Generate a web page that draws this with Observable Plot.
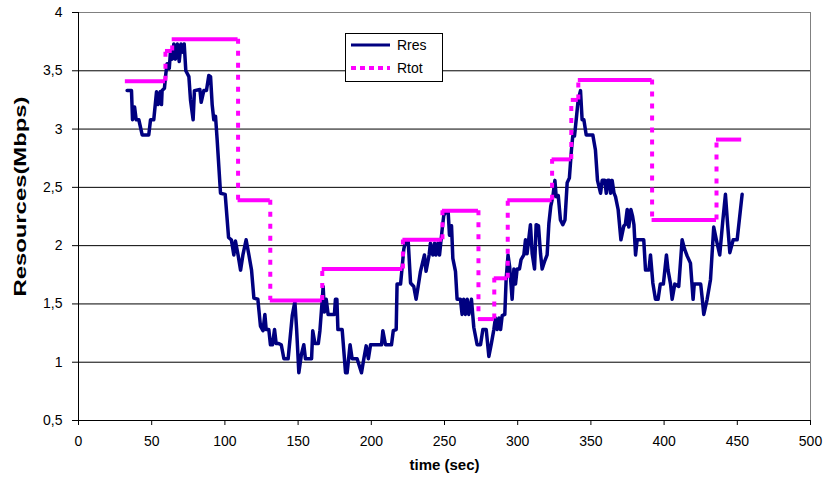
<!DOCTYPE html>
<html>
<head>
<meta charset="utf-8">
<script src="https://cdn.jsdelivr.net/npm/d3@7"></script>
<script src="https://cdn.jsdelivr.net/npm/@observablehq/plot@0.6"></script>
<style>
  body { margin: 0; background: white; }
  #wrap { position: relative; width: 830px; height: 488px; }
  #legend { position: absolute; left: 345px; top: 33px; }
</style>
</head>
<body>
<div id="wrap"></div>
<script>
// ---- data ----
const xTicks = [0, 50, 100, 150, 200, 250, 300, 350, 400, 450, 500];
const yTicks = [0.5, 1, 1.5, 2, 2.5, 3, 3.5, 4];
const seriesNames = ["Rres", "Rtot"];

const rresT = [33.2,36.2,36.9,38.3,39.4,41.2,43.5,48.0,49.2,51.4,53.3,54.4,55.8,56.7,57.1,58.7,59.7,60.5,62.0,62.8,64.0,65.1,66.2,67.5,68.8,70.0,71.2,72.2,73.3,75.4,76.5,78.3,79.2,82.9,83.8,85.6,87.4,89.0,90.2,91.3,92.4,93.6,94.7,97.0,100.2,102.5,104.4,106.1,107.2,109.0,110.7,112.3,114.5,116.4,118.2,119.8,122.5,124.3,126.0,127.3,128.2,130.0,131.1,132.5,133.9,135.0,136.8,138.5,140.3,143.2,146.0,147.8,149.0,150.5,152.3,153.9,155.0,159.2,160.0,161.5,163.8,164.9,166.4,167.1,168.0,169.2,170.5,172.1,174.8,175.5,176.5,177.2,180.1,182.4,183.5,185.5,186.9,190.3,193.3,194.9,196.5,198.0,199.5,207.0,207.9,209.7,213.8,215.0,217.0,217.6,220.0,222.2,223.4,225.2,226.8,229.0,230.6,232.0,233.6,236.3,237.4,239.5,240.4,242.0,243.2,244.2,245.5,246.6,248.4,249.5,251.1,252.5,253.4,254.8,255.7,257.5,258.6,260.9,262.0,263.1,264.3,265.5,266.6,268.4,270.0,272.3,274.6,276.2,278.5,280.3,282.0,283.7,284.8,286.0,287.2,288.3,289.4,291.2,292.1,293.4,294.5,296.2,297.4,298.5,299.6,301.2,302.3,304.2,305.3,306.4,307.5,308.7,309.9,311.5,312.6,314.2,315.6,316.7,318.5,320.1,321.3,322.6,324.0,325.4,326.3,327.7,329.2,330.8,332.3,333.8,335.3,336.7,337.6,338.8,340.2,341.3,342.9,344.0,345.2,346.8,348.6,351.3,353.1,354.5,356.6,357.7,359.5,360.5,361.5,362.5,363.4,364.5,365.8,366.8,368.6,370.5,372.5,373.5,374.8,375.9,377.3,378.5,379.4,380.5,381.6,386.1,387.3,389.6,390.7,392.3,394.1,395.9,397.4,399.5,401.6,402.7,404.4,405.5,407.3,410.0,412.3,414.0,415.8,418.0,419.8,420.6,425.0,426.1,427.1,429.4,431.7,433.9,435.7,438.0,440.0,441.9,443.4,444.9,447.2,449.9,453.3];
const rresV = [3.33,3.33,3.08,3.19,3.08,3.08,2.95,2.95,3.08,3.08,3.32,3.21,3.32,3.21,3.33,3.35,3.48,3.56,3.52,3.66,3.60,3.73,3.60,3.73,3.58,3.73,3.66,3.73,3.50,3.45,3.25,3.08,3.33,3.34,3.23,3.33,3.33,3.46,3.45,3.21,3.08,3.11,2.91,2.45,2.44,2.07,2.05,1.92,2.04,1.92,1.79,1.92,2.05,1.92,1.79,1.55,1.54,1.31,1.27,1.41,1.28,1.28,1.15,1.15,1.28,1.16,1.16,1.15,1.03,1.03,1.40,1.52,1.28,0.91,1.07,1.15,1.03,1.03,1.27,1.16,1.16,1.27,1.52,1.65,1.43,1.54,1.41,1.41,1.41,1.54,1.54,1.28,1.28,0.91,0.91,1.15,1.03,1.03,0.91,1.03,1.14,1.03,1.15,1.15,1.27,1.15,1.15,1.27,1.28,1.67,1.67,1.97,2.04,2.04,1.68,1.65,1.54,1.65,1.78,1.92,1.78,1.92,2.02,1.92,2.02,1.92,2.02,1.92,2.14,2.26,2.29,2.29,2.09,2.17,1.89,1.78,1.54,1.54,1.41,1.54,1.41,1.54,1.41,1.54,1.30,1.15,1.15,1.28,1.28,1.05,1.16,1.28,1.38,1.28,1.38,1.28,1.40,1.41,1.71,1.92,1.82,1.54,1.80,1.67,1.80,1.80,1.88,1.92,2.05,1.93,2.05,2.18,1.93,1.80,2.18,2.17,1.93,1.80,1.87,1.92,2.19,2.34,2.42,2.56,2.42,2.43,2.22,2.18,2.22,2.54,2.58,2.82,2.94,2.94,3.11,3.25,3.33,3.08,3.08,2.95,2.95,2.95,2.82,2.56,2.45,2.56,2.56,2.45,2.56,2.56,2.45,2.56,2.45,2.42,2.31,2.05,2.17,2.18,2.31,2.16,2.31,2.25,2.18,1.92,2.05,2.05,1.79,1.79,1.92,1.68,1.54,1.54,1.67,1.67,1.92,1.79,1.67,1.54,1.67,1.65,2.05,1.97,1.91,1.85,1.54,1.67,1.67,1.54,1.41,1.54,1.71,2.16,2.05,1.92,2.20,2.44,2.18,1.94,2.05,2.05,2.44];

const rtotStart = [32, 59.4, 64, 109, 131, 166.5, 221.6, 248.6, 273.2, 284, 293.2, 323.5, 336.6, 341.4, 391.8, 435.8];
const rtotEnd   = [59.4, 64, 109, 131, 166.5, 221.6, 248.6, 273.2, 284, 293.2, 323.5, 336.6, 341.4, 391.8, 435.8, 453];
const rtotLevel = [3.41, 3.67, 3.77, 2.39, 1.53, 1.80, 2.05, 2.30, 1.37, 1.72, 2.39, 2.74, 3.25, 3.42, 2.22, 2.91];

// ---- derived tables ----
const rres = rresT.map((t, i) => ({t, v: rresV[i]}));
const horiz = rtotLevel.map((v, i) => ({x1: rtotStart[i], x2: rtotEnd[i], y: v}));
const vert = rtotLevel.slice(1).map((v, i) => ({x: rtotStart[i + 1], y1: rtotLevel[i], y2: v}));

const fmt = d => String(d).replace(".", ",");
const NAVY = "#000080", MAG = "#ff00ff";

const chart = Plot.plot({
  width: 830, height: 488,
  marginLeft: 78, marginRight: 20, marginTop: 12, marginBottom: 68,
  x: {domain: [0, 500]},
  y: {domain: [0.5, 4]},
  style: {fontFamily: "'Liberation Sans', Arial, sans-serif", fontSize: "14px", color: "#000", background: "white", overflow: "visible"},
  marks: [
    Plot.ruleY(yTicks, {stroke: "#000", strokeWidth: 1}),
    Plot.frame({stroke: "#808080"}),
    Plot.axisY(yTicks, {tickSize: 6, tickPadding: 10, tickFormat: fmt, label: null, stroke: "#000"}),
    Plot.axisX(xTicks, {tickSize: 5, tickPadding: 11, label: null, stroke: "#000"}),
    Plot.ruleX([0], {stroke: "#000"}),
    Plot.ruleY([0.5], {stroke: "#000"}),
    Plot.line(rres, {x: "t", y: "v", stroke: NAVY, strokeWidth: 3.5, strokeLinejoin: "round"}),
    Plot.ruleY(horiz, {y: "y", x1: "x1", x2: "x2", stroke: MAG, strokeWidth: 4}),
    Plot.ruleX(vert, {x: "x", y1: "y1", y2: "y2", stroke: MAG, strokeWidth: 4, strokeDasharray: "5,7"}),
    Plot.text(["Resources(Mbps)"], {text: d => d, frameAnchor: "left", textAnchor: "middle", dx: -58, dy: -20, rotate: -90, fontWeight: "bold", fontSize: 16, className: "ylab"}),
    Plot.text(["time (sec)"], {text: d => d, frameAnchor: "bottom", textAnchor: "middle", dy: 49, fontWeight: "bold", fontSize: 15})
  ]
});
const wrap = document.getElementById("wrap");
wrap.appendChild(chart);

// stretch the y title along its length, as in the reference
const yl = chart.querySelector(".ylab text") || chart.querySelector("g.ylab text");
if (yl) { yl.setAttribute("textLength", 200); yl.setAttribute("lengthAdjust", "spacingAndGlyphs"); }

// legend (inside plot area, as in the reference)
const ns = "http://www.w3.org/2000/svg";
const leg = document.createElementNS(ns, "svg");
leg.setAttribute("id", "legend");
leg.setAttribute("width", 98);
leg.setAttribute("height", 49);
leg.innerHTML = `<rect x="0.5" y="0.5" width="97" height="48" fill="white" stroke="#000"/>`;
const legStyles = [{stroke: NAVY, dash: null}, {stroke: MAG, dash: "5,4"}];
seriesNames.forEach((name, i) => {
  const y = 12 + i * 23;
  const line = document.createElementNS(ns, "line");
  line.setAttribute("x1", 6); line.setAttribute("x2", 45);
  line.setAttribute("y1", y); line.setAttribute("y2", y);
  line.setAttribute("stroke", legStyles[i].stroke);
  line.setAttribute("stroke-width", i === 0 ? 3 : 4);
  if (legStyles[i].dash) line.setAttribute("stroke-dasharray", legStyles[i].dash);
  leg.appendChild(line);
  const tx = document.createElementNS(ns, "text");
  tx.setAttribute("x", 52); tx.setAttribute("y", y + 5);
  tx.setAttribute("font-family", "'Liberation Sans', Arial, sans-serif");
  tx.setAttribute("font-size", "14");
  tx.textContent = name;
  leg.appendChild(tx);
});
wrap.appendChild(leg);
</script>
</body>
</html>
